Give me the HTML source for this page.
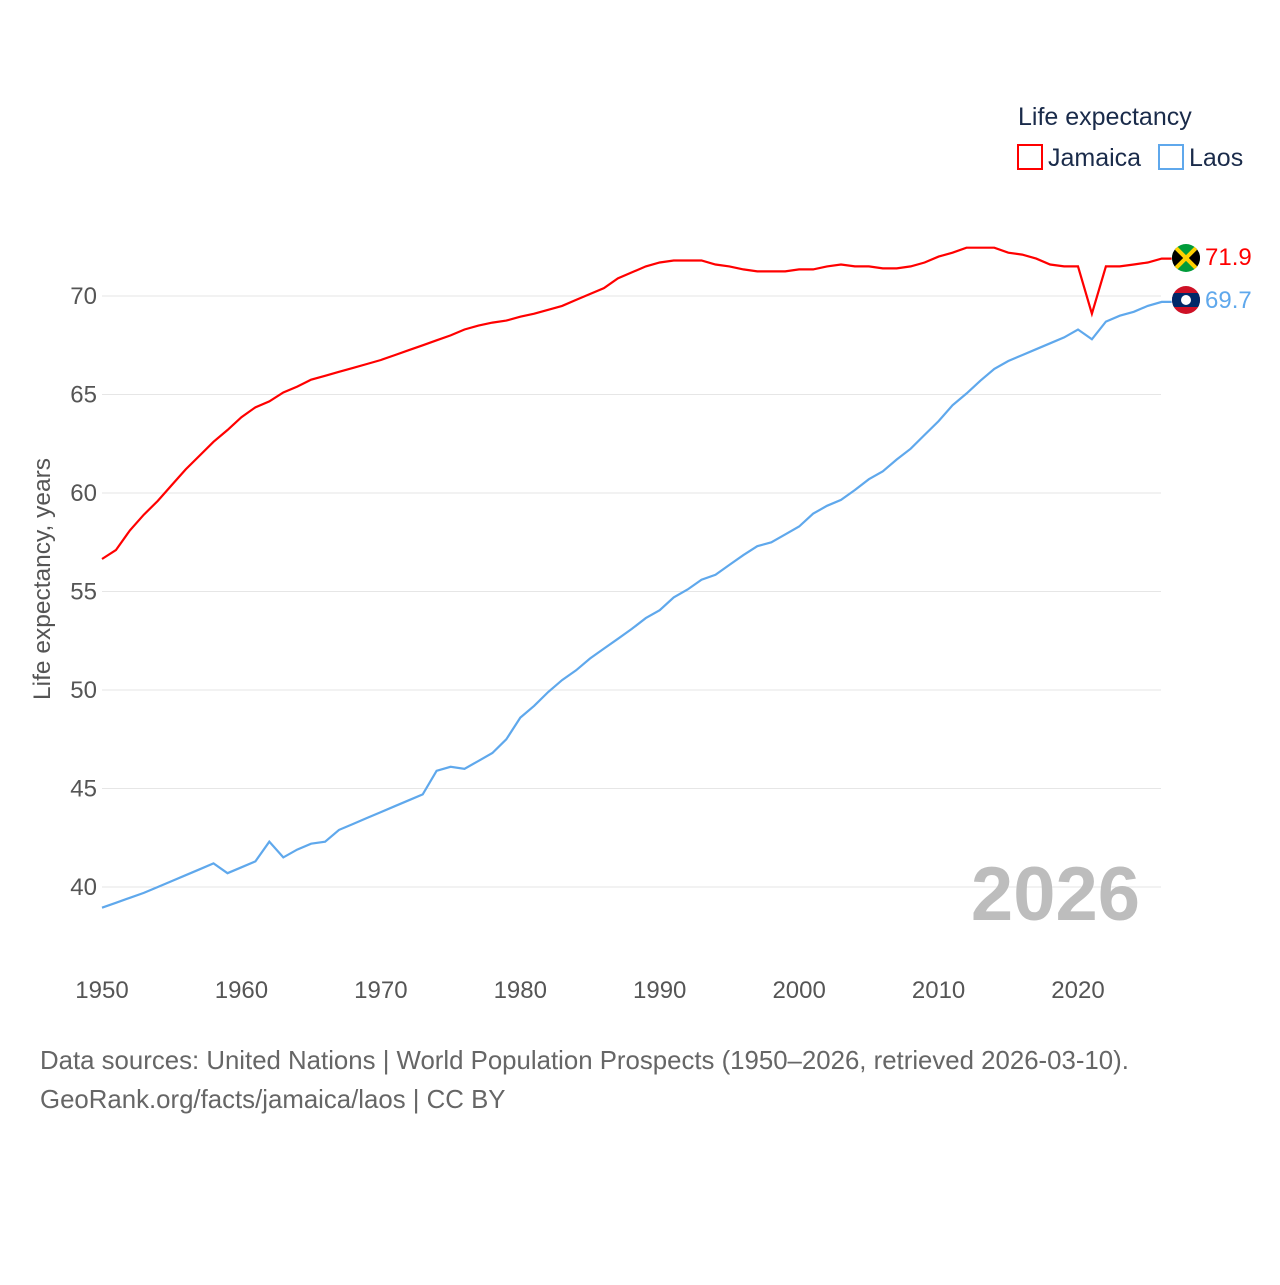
<!DOCTYPE html>
<html><head><meta charset="utf-8"><style>
body{margin:0;background:#fff;font-family:"Liberation Sans",sans-serif}
svg text{font-family:"Liberation Sans",sans-serif}
</style></head><body>
<svg id="c" width="1280" height="1280" viewBox="0 0 1280 1280">
<defs>
<clipPath id="cj"><circle cx="1186" cy="258" r="14"/></clipPath>
<clipPath id="cl"><circle cx="1186" cy="300" r="14"/></clipPath>
</defs>
<g id="grid"></g>
<g id="yt"></g>
<g id="xt"></g>
<text x="50" y="579" transform="rotate(-90 50 579)" text-anchor="middle" font-size="24.5" fill="#555">Life expectancy, years</text>
<text x="1140" y="920" text-anchor="end" font-size="76" font-weight="bold" fill="#bdbdbd">2026</text>
<path id="lj" fill="none" stroke="#ff0000" stroke-width="2.2"/>
<path id="ll" fill="none" stroke="#5fa8ec" stroke-width="2.2"/>
<g id="fj" clip-path="url(#cj)">
<rect x="1172" y="244" width="28" height="28" fill="#009b3a"/>
<polygon points="1172,244 1186,258 1172,272" fill="#000"/>
<polygon points="1200,244 1186,258 1200,272" fill="#000"/>
<line x1="1172" y1="244" x2="1200" y2="272" stroke="#fed100" stroke-width="4"/>
<line x1="1200" y1="244" x2="1172" y2="272" stroke="#fed100" stroke-width="4"/>
</g>
<g id="fl" clip-path="url(#cl)">
<rect x="1172" y="286" width="28" height="28" fill="#ce1126"/>
<rect x="1172" y="293" width="28" height="14" fill="#002868"/>
<circle cx="1186" cy="300" r="5" fill="#fff"/>
</g>
<text id="vj" x="1205" y="265" font-size="24" fill="#ff0000">71.9</text>
<text id="vl" x="1205" y="308" font-size="24" fill="#5fa8ec">69.7</text>
<text x="1018" y="125" font-size="25" fill="#1a2b4a">Life expectancy</text>
<g>
<rect x="1018" y="145" width="24" height="24" fill="none" stroke="#ff0000" stroke-width="2"/>
<text x="1048" y="166" font-size="25" fill="#1a2b4a">Jamaica</text></g>
<g>
<rect x="1159" y="145" width="24" height="24" fill="none" stroke="#5fa8ec" stroke-width="2"/>
<text x="1189" y="166" font-size="25" fill="#1a2b4a">Laos</text></g>
<text x="40" y="1069" font-size="25.8" fill="#666">Data sources: United Nations | World Population Prospects (1950–2026, retrieved 2026-03-10).</text>
<text x="40" y="1108" font-size="25.8" fill="#666">GeoRank.org/facts/jamaica/laos | CC BY</text>
</svg>
<script>
const years=[];for(let y=1950;y<=2026;y++)years.push(y);
const jamaica=[56.65,57.1,58.1,58.9,59.6,60.4,61.2,61.9,62.6,63.2,63.85,64.35,64.65,65.1,65.4,65.75,65.95,66.15,66.35,66.55,66.75,67.0,67.25,67.5,67.75,68.0,68.3,68.5,68.65,68.75,68.95,69.1,69.3,69.5,69.8,70.1,70.4,70.9,71.2,71.5,71.7,71.8,71.8,71.8,71.6,71.5,71.35,71.25,71.25,71.25,71.35,71.35,71.5,71.6,71.5,71.5,71.4,71.4,71.5,71.7,72.0,72.2,72.45,72.45,72.45,72.2,72.1,71.9,71.6,71.5,71.5,69.1,71.5,71.5,71.6,71.7,71.9];
const laos=[38.95,39.2,39.45,39.7,40.0,40.3,40.6,40.9,41.2,40.7,41.0,41.3,42.3,41.5,41.9,42.2,42.3,42.9,43.2,43.5,43.8,44.1,44.4,44.7,45.9,46.1,46.0,46.4,46.8,47.5,48.6,49.2,49.9,50.5,51.0,51.6,52.1,52.6,53.1,53.65,54.05,54.7,55.1,55.6,55.85,56.35,56.85,57.3,57.5,57.9,58.3,58.95,59.35,59.65,60.15,60.7,61.1,61.7,62.25,62.95,63.65,64.45,65.05,65.7,66.3,66.7,67.0,67.3,67.6,67.9,68.3,67.8,68.7,69.0,69.2,69.5,69.7];
const yTicks=[40,45,50,55,60,65,70];
const xTicks=[1950,1960,1970,1980,1990,2000,2010,2020];
const X=y=>102+(y-1950)*(976/70);
const Y=v=>296+(70-v)*(591/30);
const ns='http://www.w3.org/2000/svg';
const grid=document.getElementById('grid'),yt=document.getElementById('yt'),xt=document.getElementById('xt');
yTicks.forEach(t=>{
 const l=document.createElementNS(ns,'line');
 
 
 l.setAttribute('x1',102);l.setAttribute('x2',1161);l.setAttribute('y1',Y(t));l.setAttribute('y2',Y(t));
 l.setAttribute('stroke','#e6e6e6');l.setAttribute('stroke-width','1');grid.appendChild(l);
 const tx=document.createElementNS(ns,'text');
 
 
 tx.setAttribute('x',97);tx.setAttribute('y',Y(t)+8);tx.setAttribute('text-anchor','end');
 tx.setAttribute('font-size','24');tx.setAttribute('fill','#555');tx.textContent=t;yt.appendChild(tx);
});
xTicks.forEach(t=>{
 const tx=document.createElementNS(ns,'text');
 
 
 tx.setAttribute('x',X(t));tx.setAttribute('y',998);tx.setAttribute('text-anchor','middle');
 tx.setAttribute('font-size','24');tx.setAttribute('fill','#555');tx.textContent=t;xt.appendChild(tx);
});
const path=arr=>arr.map((v,i)=>(i?'L':'M')+X(years[i]).toFixed(1)+' '+Y(v).toFixed(1)).join(' ')+' L'+(X(2026)+10)+' '+Y(arr[arr.length-1]).toFixed(1);
document.getElementById('lj').setAttribute('d',path(jamaica));
document.getElementById('ll').setAttribute('d',path(laos));
</script>
</body></html>
